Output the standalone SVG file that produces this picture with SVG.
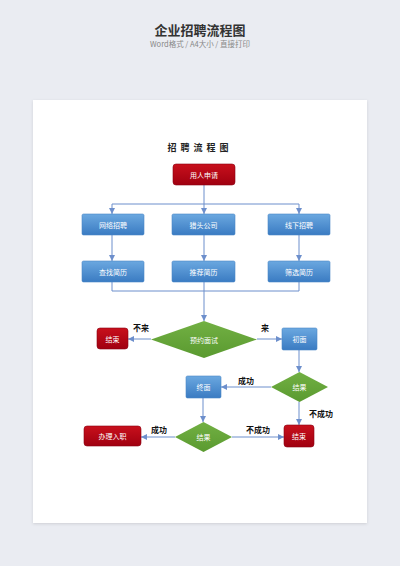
<svg xmlns="http://www.w3.org/2000/svg" width="400" height="566" viewBox="0 0 400 566">
<defs>
<linearGradient id="gb" x1="0" y1="0" x2="0" y2="1"><stop offset="0" stop-color="#6ba8e0"/><stop offset="1" stop-color="#3a7bc2"/></linearGradient>
<linearGradient id="gr" x1="0" y1="0" x2="0" y2="1"><stop offset="0" stop-color="#c8101c"/><stop offset="1" stop-color="#a00010"/></linearGradient>
<linearGradient id="gg" x1="0" y1="0" x2="0" y2="1"><stop offset="0" stop-color="#72b043"/><stop offset="1" stop-color="#5a9a30"/></linearGradient>
<filter id="sh" x="-5%" y="-5%" width="110%" height="110%"><feDropShadow dx="0" dy="1" stdDeviation="1.5" flood-color="#000" flood-opacity="0.12"/></filter>
<marker id="ar" viewBox="0 0 6 6" refX="6" refY="3" markerWidth="6" markerHeight="6" markerUnits="userSpaceOnUse" orient="auto"><path d="M0,0 L6,3 L0,6 z" fill="#6d8fcc"/></marker>
<style>
.t{font-family:"Noto Sans CJK SC","Noto Sans",sans-serif;fill:#fff;font-size:7px;text-anchor:middle;dominant-baseline:central}
.lb{font-family:"Noto Sans CJK SC","Noto Sans",sans-serif;fill:#111;font-size:8px;font-weight:bold;text-anchor:middle;dominant-baseline:central}
.blue{fill:url(#gb);stroke:#4a86c6;stroke-width:0.6}
.red{fill:url(#gr);stroke:#8a0010;stroke-width:0.6}
.green{fill:url(#gg)}
.c{fill:none;stroke:#6d8fcc;stroke-width:1}
</style>
</defs>
<rect width="400" height="566" fill="#eaecf2"/>
<text x="200" y="29" font-family="Noto Sans CJK SC,sans-serif" font-size="13" font-weight="bold" fill="#333" text-anchor="middle" dominant-baseline="central">企业招聘流程图</text>
<text x="200" y="43.5" font-family="Noto Sans CJK SC,sans-serif" font-size="7.5" fill="#888" text-anchor="middle" dominant-baseline="central">Word格式 / A4大小 / 直接打印</text>
<rect x="33" y="100" width="334" height="423" fill="#fff" filter="url(#sh)"/>
<text x="200" y="147" font-family="Noto Sans CJK SC,sans-serif" font-size="9" font-weight="bold" fill="#222" text-anchor="middle" dominant-baseline="central" letter-spacing="4">招聘流程图</text>
<g id="connectors">
<path class="c" d="M204,185 V204"/>
<path class="c" d="M112,204 H299"/>
<path class="c" d="M112,204 V214" marker-end="url(#ar)"/>
<path class="c" d="M204,204 V214" marker-end="url(#ar)"/>
<path class="c" d="M299,204 V214" marker-end="url(#ar)"/>
<path class="c" d="M112,235 V261" marker-end="url(#ar)"/>
<path class="c" d="M204,235 V261" marker-end="url(#ar)"/>
<path class="c" d="M299,235 V261" marker-end="url(#ar)"/>
<path class="c" d="M112,282 V291 H299 V282"/>
<path class="c" d="M204,282 V321" marker-end="url(#ar)"/>
<path class="c" d="M151,339 H128" marker-end="url(#ar)"/>
<path class="c" d="M257,339 H282" marker-end="url(#ar)"/>
<path class="c" d="M299,350 V372" marker-end="url(#ar)"/>
<path class="c" d="M271,387 H221" marker-end="url(#ar)"/>
<path class="c" d="M299,402 V425" marker-end="url(#ar)"/>
<path class="c" d="M203,398 V422" marker-end="url(#ar)"/>
<path class="c" d="M232,437 H284" marker-end="url(#ar)"/>
<path class="c" d="M175,437 H141" marker-end="url(#ar)"/>
<text class="lb" x="141" y="327">不来</text>
<text class="lb" x="265" y="327">来</text>
<text class="lb" x="246" y="380">成功</text>
<text class="lb" x="321" y="413">不成功</text>
<text class="lb" x="258" y="429">不成功</text>
<text class="lb" x="159" y="429">成功</text>
</g>
<g id="n-start"><rect class="red" x="173" y="164" width="62" height="21" rx="3"/><text class="t" x="204" y="174.5">用人申请</text></g>
<g id="n-wl"><rect class="blue" x="82" y="214" width="62" height="21" rx="1.5"/><text class="t" x="113" y="224.5">网络招聘</text></g>
<g id="n-lt"><rect class="blue" x="172" y="214" width="63" height="21" rx="1.5"/><text class="t" x="203.5" y="224.5">猎头公司</text></g>
<g id="n-xx"><rect class="blue" x="268" y="214" width="62" height="21" rx="1.5"/><text class="t" x="299" y="224.5">线下招聘</text></g>
<g id="n-cz"><rect class="blue" x="82" y="261" width="62" height="21" rx="1.5"/><text class="t" x="113" y="271.5">查找简历</text></g>
<g id="n-tj"><rect class="blue" x="172" y="261" width="63" height="21" rx="1.5"/><text class="t" x="203.5" y="271.5">推荐简历</text></g>
<g id="n-sx"><rect class="blue" x="268" y="261" width="62" height="21" rx="1.5"/><text class="t" x="299" y="271.5">筛选简历</text></g>
<g id="n-yy"><polygon class="green" points="204,321 257,339.5 204,358 151,339.5"/><text class="t" x="204" y="339.5">预约面试</text></g>
<g id="n-end1"><rect class="red" x="97" y="328" width="31" height="21" rx="3"/><text class="t" x="112.5" y="338.5">结束</text></g>
<g id="n-cm"><rect class="blue" x="282" y="328" width="35" height="22" rx="1.5"/><text class="t" x="299.5" y="339">初面</text></g>
<g id="n-jg1"><polygon class="green" points="299.5,372 328,387 299.5,402 271,387"/><text class="t" x="299.5" y="387">结果</text></g>
<g id="n-zm"><rect class="blue" x="186" y="376" width="35" height="22" rx="1.5"/><text class="t" x="203.5" y="387">终面</text></g>
<g id="n-end2"><rect class="red" x="284" y="425" width="30" height="22" rx="3"/><text class="t" x="299" y="436">结束</text></g>
<g id="n-jg2"><polygon class="green" points="203.5,422 232,437 203.5,452 175,437"/><text class="t" x="203.5" y="437">结果</text></g>
<g id="n-rz"><rect class="red" x="84" y="426" width="57" height="20" rx="3"/><text class="t" x="112.5" y="436">办理入职</text></g>
</svg>
